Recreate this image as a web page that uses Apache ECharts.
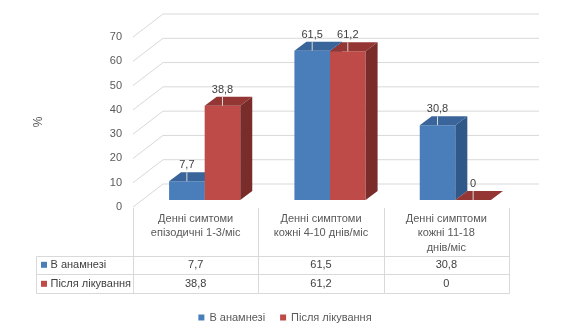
<!DOCTYPE html>
<html><head><meta charset="utf-8">
<script src="https://cdn.jsdelivr.net/npm/echarts@6/dist/echarts.min.js"></script>
<style>html,body{margin:0;padding:0;background:#fff}#c{width:570px;height:335px}</style>
</head><body><div id="c"></div>
<script>
// ---- data ----
const categories = ['Денні симтоми\nепізодичні 1-3/міс', 'Денні симптоми\nкожні 4-10 днів/міс', 'Денні симптоми\nкожні 11-18\nднів/міс'];
const seriesNames = ['В анамнезі', 'Після лікування'];
const historyValues = [7.7, 61.5, 30.8];
const afterValues = [38.8, 61.2, 0];
const yTicks = [0, 10, 20, 30, 40, 50, 60, 70];

// ---- styling / geometry ----
const FONT = 'Liberation Sans, Arial, sans-serif';
const WALL_DX = 30, WALL_DY = -23;
const BAR_DX = 9, BAR_DY = -7;
const DEP_DX = 12, DEP_DY = -9;
const BAR_FRAC = 0.284;
const LINE = '#d9d9d9';
const seriesColors = [
  { front: '#4a7ebb', top: '#3a659a', side: '#30598a' },
  { front: '#be4b48', top: '#943634', side: '#7a2c2a' }
];
const fmt = v => String(v).replace('.', ',');

function barRenderer(sIdx) {
  const c = seriesColors[sIdx];
  return function (params, api) {
    const i = api.value(0), v = api.value(1);
    const base = api.coord([i, 0]);
    const top = api.coord([i, v]);
    const bw = api.size([1, 0])[0];
    const w = bw * BAR_FRAC;
    const x0 = base[0] + (sIdx === 0 ? -w : 0) + BAR_DX;
    const x1 = x0 + w;
    const yb = base[1] + BAR_DY;
    const yt = top[1] + BAR_DY;
    const cx = (x0 + x1) / 2;
    const children = [];
    if (yb - yt > 0.5) {
      children.push({ type: 'polygon', shape: { points: [[x0, yt], [x1, yt], [x1, yb], [x0, yb]] }, style: { fill: c.front } });
      children.push({ type: 'polygon', shape: { points: [[x1, yt], [x1 + DEP_DX, yt + DEP_DY], [x1 + DEP_DX, yb + DEP_DY], [x1, yb]] }, style: { fill: c.side } });
    }
    children.push({ type: 'polygon', shape: { points: [[x0, yt], [x1, yt], [x1 + DEP_DX, yt + DEP_DY], [x0 + DEP_DX, yt + DEP_DY]] }, style: { fill: c.top } });
    children.push({ type: 'line', shape: { x1: cx, y1: yt - 9, x2: cx, y2: yt }, style: { stroke: LINE, lineWidth: 1 } });
    children.push({ type: 'text', x: cx, y: yt - 16, style: { text: fmt(v), font: '11px ' + FONT, fill: '#404040', align: 'center', verticalAlign: 'middle' } });
    return { type: 'group', children };
  };
}

function wallRenderer(params, api) {
  const cs = params.coordSys;
  const y = api.coord([0, api.value(1)])[1];
  return {
    type: 'group', children: [
      { type: 'line', shape: { x1: cs.x, y1: y, x2: cs.x + WALL_DX, y2: y + WALL_DY }, style: { stroke: LINE, lineWidth: 1 } },
      { type: 'line', shape: { x1: cs.x + WALL_DX, y1: y + WALL_DY, x2: cs.x + cs.width + WALL_DX, y2: y + WALL_DY }, style: { stroke: LINE, lineWidth: 1 } }
    ]
  };
}

function tableRenderer(params, api) {
  const i = api.value(0);
  const base = api.coord([i, 0]);
  const bw = api.size([1, 0])[0];
  const left = Math.round(base[0] - bw / 2) + 0.5, right = Math.round(base[0] + bw / 2) + 0.5;
  const y0 = base[1];
  const rowLines = [48.7, 67.3, 86.3].map(d => Math.round(y0 + d) + 0.5);
  const ls = { stroke: LINE, lineWidth: 1 };
  const tf = '11px ' + FONT;
  const ch = [];
  ch.push({ type: 'line', shape: { x1: left, y1: y0 + 1, x2: left, y2: rowLines[2] }, style: ls });
  if (i === categories.length - 1) ch.push({ type: 'line', shape: { x1: right, y1: y0 + 1, x2: right, y2: rowLines[2] }, style: ls });
  let hl = left;
  if (i === 0) {
    hl = left - 97;
    ch.push({ type: 'line', shape: { x1: hl, y1: rowLines[0], x2: hl, y2: rowLines[2] }, style: ls });
    [0, 1].forEach(s => {
      const ty = y0 + (s === 0 ? 57.8 : 76.8);
      ch.push({ type: 'rect', shape: { x: hl + 4.5, y: ty - 3, width: 6, height: 6 }, style: { fill: seriesColors[s].front } });
      ch.push({ type: 'text', x: hl + 14, y: ty, style: { text: seriesNames[s], font: tf, fill: '#404040', align: 'left', verticalAlign: 'middle' } });
    });
  }
  rowLines.forEach(ry => ch.push({ type: 'line', shape: { x1: hl, y1: ry, x2: right, y2: ry }, style: ls }));
  ch.push({ type: 'text', x: base[0], y: y0 + 57.8, style: { text: fmt(historyValues[i]), font: tf, fill: '#404040', align: 'center', verticalAlign: 'middle' } });
  ch.push({ type: 'text', x: base[0], y: y0 + 76.8, style: { text: fmt(afterValues[i]), font: tf, fill: '#404040', align: 'center', verticalAlign: 'middle' } });
  return { type: 'group', children: ch };
}

const chart = echarts.init(document.getElementById('c'), null, { renderer: 'canvas' });
chart.setOption({
  animation: false,
  backgroundColor: '#fff',
  textStyle: { fontFamily: FONT },
  grid: { left: 133, right: 61, top: 37, height: 170 },
  legend: {
    data: seriesNames, top: 307, left: 'center', icon: 'rect', itemWidth: 6, itemHeight: 6, itemGap: 15,
    textStyle: { fontSize: 11, color: '#595959', fontFamily: FONT }
  },
  xAxis: {
    type: 'category', data: categories, boundaryGap: true,
    axisLine: { show: false }, axisTick: { show: false }, splitLine: { show: false },
    axisLabel: { interval: 0, margin: 5, color: '#595959', fontSize: 11, lineHeight: 14.3, fontFamily: FONT }
  },
  yAxis: {
    type: 'value', min: 0, max: 70, interval: 10,
    name: '%', nameLocation: 'middle', nameGap: 88,
    nameTextStyle: { color: '#595959', fontSize: 12, fontFamily: FONT },
    axisLine: { show: false }, axisTick: { show: false }, splitLine: { show: false },
    axisLabel: { margin: 11, color: '#595959', fontSize: 11, fontFamily: FONT }
  },
  series: [
    { type: 'custom', name: '_wall', silent: true, z: 1, clip: false, renderItem: wallRenderer, data: yTicks.map(v => [0, v]), encode: { x: 0, y: 1 } },
    { type: 'custom', name: seriesNames[0], z: 3, clip: false, itemStyle: { color: seriesColors[0].front }, renderItem: barRenderer(0), data: historyValues.map((v, i) => [i, v]), encode: { x: 0, y: 1 } },
    { type: 'custom', name: seriesNames[1], z: 4, clip: false, itemStyle: { color: seriesColors[1].front }, renderItem: barRenderer(1), data: afterValues.map((v, i) => [i, v]), encode: { x: 0, y: 1 } },
    { type: 'custom', name: '_table', silent: true, z: 2, clip: false, renderItem: tableRenderer, data: categories.map((c, i) => [i, 0]), encode: { x: 0, y: 1 } }
  ]
});
</script>
</body></html>
